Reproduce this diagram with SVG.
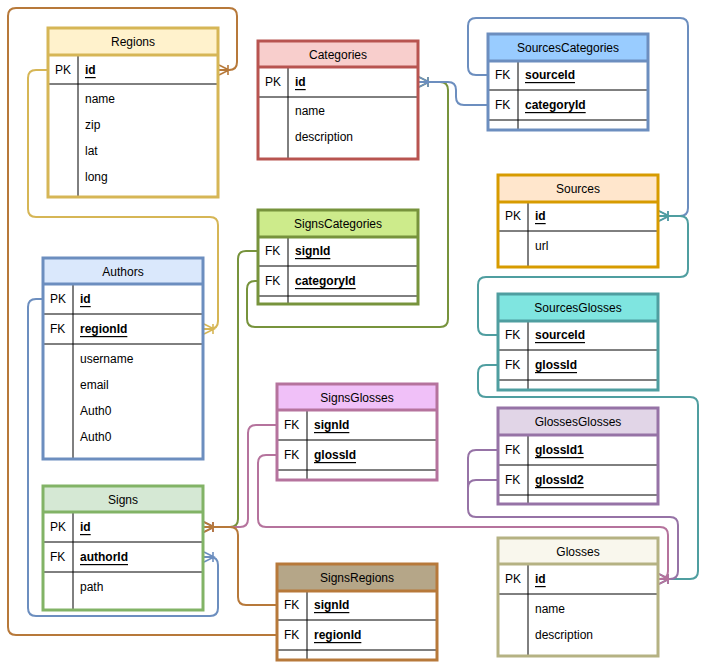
<svg xmlns="http://www.w3.org/2000/svg" width="707" height="663" viewBox="0 0 707 663">
<style>
text{font-family:"Liberation Sans",Arial,sans-serif;font-size:12px;fill:#000;dominant-baseline:central}
.t{text-anchor:middle}
.k{font-weight:bold;text-decoration:underline}
.row{stroke:#000;stroke-width:1;fill:none}
.c{fill:none;stroke-width:2}
.m{fill:none;stroke-width:1.6}
</style>
<defs>
<marker id="mBr" viewBox="-12 -7 14 14" refX="0" refY="0" markerWidth="14" markerHeight="14" markerUnits="userSpaceOnUse" orient="auto"><path class="m" stroke="#b7793a" d="M0,-5 L-10,0 L0,5 M0,0 L-10,0 M-9,-5 L-9,5"/></marker>
<marker id="mYe" viewBox="-12 -7 14 14" refX="0" refY="0" markerWidth="14" markerHeight="14" markerUnits="userSpaceOnUse" orient="auto"><path class="m" stroke="#d6b656" d="M0,-5 L-10,0 L0,5 M0,0 L-10,0 M-9,-5 L-9,5"/></marker>
<marker id="mBl" viewBox="-12 -7 14 14" refX="0" refY="0" markerWidth="14" markerHeight="14" markerUnits="userSpaceOnUse" orient="auto"><path class="m" stroke="#6c8ebf" d="M0,-5 L-10,0 L0,5 M0,0 L-10,0 M-9,-5 L-9,5"/></marker>
<marker id="mGr" viewBox="-12 -7 14 14" refX="0" refY="0" markerWidth="14" markerHeight="14" markerUnits="userSpaceOnUse" orient="auto"><path class="m" stroke="#77933c" d="M0,-5 L-10,0 L0,5 M0,0 L-10,0 M-9,-5 L-9,5"/></marker>
<marker id="mTe" viewBox="-12 -7 14 14" refX="0" refY="0" markerWidth="14" markerHeight="14" markerUnits="userSpaceOnUse" orient="auto"><path class="m" stroke="#4f9ea0" d="M0,-5 L-10,0 L0,5 M0,0 L-10,0 M-9,-5 L-9,5"/></marker>
<marker id="mPu" viewBox="-12 -7 14 14" refX="0" refY="0" markerWidth="14" markerHeight="14" markerUnits="userSpaceOnUse" orient="auto"><path class="m" stroke="#9673a6" d="M0,-5 L-10,0 L0,5 M0,0 L-10,0 M-9,-5 L-9,5"/></marker>
<marker id="mPi" viewBox="-12 -7 14 14" refX="0" refY="0" markerWidth="14" markerHeight="14" markerUnits="userSpaceOnUse" orient="auto"><path class="m" stroke="#b5739d" d="M0,-5 L-10,0 L0,5 M0,0 L-10,0 M-9,-5 L-9,5"/></marker>
</defs>
<rect width="707" height="663" fill="#fff"/>

<g id="connectors">
<path class="c" stroke="#b7793a" marker-end="url(#mBr)" d="M277,635 H16 Q8,635 8,627 V16 Q8,8 16,8 H229 Q237,8 237,16 V62 Q237,70 229,70 H219"/>
<path class="c" stroke="#d6b656" marker-end="url(#mYe)" d="M48,70 H36 Q28,70 28,78 V209 Q28,217 36,217 H210 Q218,217 218,225 V321 Q218,329 210,329 H204"/>
<path class="c" stroke="#6c8ebf" marker-end="url(#mBl)" d="M43,299 H36 Q28,299 28,307 V608 Q28,616 36,616 H210 Q218,616 218,608 V565 Q218,557 210,557 H204"/>
<path class="c" stroke="#77933c" marker-end="url(#mGr)" d="M258,251 H246 Q238,251 238,259 V519 Q238,527 230,527 H204"/>
<path class="c" stroke="#77933c" marker-end="url(#mGr)" d="M258,281 H255 Q247,281 247,289 V319 Q247,327 255,327 H440 Q448,327 448,319 V90 Q448,82 440,82 H419"/>
<path class="c" stroke="#6c8ebf" marker-end="url(#mBl)" d="M488,105 H464 Q456,105 456,97 V90 Q456,82 448,82 H419"/>
<path class="c" stroke="#6c8ebf" marker-end="url(#mBl)" d="M488,75 H476 Q468,75 468,67 V26 Q468,18 476,18 H680 Q688,18 688,26 V208 Q688,216 680,216 H659"/>
<path class="c" stroke="#4f9ea0" marker-end="url(#mTe)" d="M498,335 H486 Q478,335 478,327 V285 Q478,277 486,277 H680 Q688,277 688,269 V224 Q688,216 680,216 H659"/>
<path class="c" stroke="#4f9ea0" marker-end="url(#mTe)" d="M498,365 H486 Q478,365 478,373 V389 Q478,397 486,397 H690 Q698,397 698,405 V571 Q698,579 690,579 H659"/>
<path class="c" stroke="#9673a6" marker-end="url(#mPu)" d="M498,450 H476 Q468,450 468,458 V509 Q468,517 476,517 H670 Q678,517 678,525 V571 Q678,579 670,579 H659"/>
<path class="c" stroke="#9673a6" d="M498,480 H476 Q468,480 468,488 V500"/>
<path class="c" stroke="#b5739d" marker-end="url(#mPi)" d="M277,455 H266 Q258,455 258,463 V519 Q258,527 266,527 H660 Q668,527 668,535 V571 Q668,579 660,579 H659"/>
<path class="c" stroke="#b5739d" marker-end="url(#mPi)" d="M277,425 H256 Q248,425 248,433 V519 Q248,527 240,527 H204"/>
<path class="c" stroke="#b7793a" marker-end="url(#mBr)" d="M277,605 H246 Q238,605 238,597 V535 Q238,527 230,527 H204"/>
</g>

<g id="Regions">
<rect x="48" y="28" width="170" height="169" fill="#fff"/>
<rect x="48" y="28" width="170" height="27" fill="#fff2cc"/>
<path class="row" d="M48,84 H218 M78,55 V197"/>
<path d="M48,55 H218" stroke="#d6b656" stroke-width="3"/>
<rect x="48" y="28" width="170" height="169" fill="none" stroke="#d6b656" stroke-width="3"/>
<text class="t" x="133" y="42">Regions</text>
<text x="55" y="70">PK</text><text class="k" x="85" y="70">id</text>
<text x="85" y="99">name</text><text x="85" y="125">zip</text><text x="85" y="151">lat</text><text x="85" y="177">long</text>
</g>

<g id="Categories">
<rect x="258" y="41" width="160" height="118" fill="#fff"/>
<rect x="258" y="41" width="160" height="26" fill="#f8cecc"/>
<path class="row" d="M258,97 H418 M288,67 V159"/>
<path d="M258,67 H418" stroke="#b85450" stroke-width="3"/>
<rect x="258" y="41" width="160" height="118" fill="none" stroke="#b85450" stroke-width="3"/>
<text class="t" x="338" y="55">Categories</text>
<text x="265" y="82">PK</text><text class="k" x="295" y="82">id</text>
<text x="295" y="111">name</text><text x="295" y="137">description</text>
</g>

<g id="SignsCategories">
<rect x="258" y="210" width="160" height="94" fill="#fff"/>
<rect x="258" y="210" width="160" height="27" fill="#cdeb8b"/>
<path class="row" d="M258,266 H418 M258,296 H418 M288,237 V304"/>
<path d="M258,237 H418" stroke="#77933c" stroke-width="3"/>
<rect x="258" y="210" width="160" height="94" fill="none" stroke="#77933c" stroke-width="3"/>
<text class="t" x="338" y="224">SignsCategories</text>
<text x="265" y="251">FK</text><text class="k" x="295" y="251">signId</text>
<text x="265" y="281">FK</text><text class="k" x="295" y="281">categoryId</text>
</g>

<g id="SourcesCategories">
<rect x="488" y="34" width="160" height="96" fill="#fff"/>
<rect x="488" y="34" width="160" height="27" fill="#99ccff"/>
<path class="row" d="M488,90 H648 M488,120 H648 M518,61 V130"/>
<path d="M488,61 H648" stroke="#6c8ebf" stroke-width="3"/>
<rect x="488" y="34" width="160" height="96" fill="none" stroke="#6c8ebf" stroke-width="3"/>
<text class="t" x="568" y="48">SourcesCategories</text>
<text x="495" y="75">FK</text><text class="k" x="525" y="75">sourceId</text>
<text x="495" y="105">FK</text><text class="k" x="525" y="105">categoryId</text>
</g>

<g id="Sources">
<rect x="498" y="175" width="160" height="92" fill="#fff"/>
<rect x="498" y="175" width="160" height="27" fill="#ffe6cc"/>
<path class="row" d="M498,231 H658 M528,202 V267"/>
<path d="M498,202 H658" stroke="#d79b00" stroke-width="3"/>
<rect x="498" y="175" width="160" height="92" fill="none" stroke="#d79b00" stroke-width="3"/>
<text class="t" x="578" y="189">Sources</text>
<text x="505" y="216">PK</text><text class="k" x="535" y="216">id</text>
<text x="535" y="246">url</text>
</g>

<g id="Authors">
<rect x="43" y="258" width="160" height="201" fill="#fff"/>
<rect x="43" y="258" width="160" height="26" fill="#dae8fc"/>
<path class="row" d="M43,314 H203 M43,344 H203 M73,284 V459"/>
<path d="M43,284 H203" stroke="#6c8ebf" stroke-width="3"/>
<rect x="43" y="258" width="160" height="201" fill="none" stroke="#6c8ebf" stroke-width="3"/>
<text class="t" x="123" y="272">Authors</text>
<text x="50" y="299">PK</text><text class="k" x="80" y="299">id</text>
<text x="50" y="329">FK</text><text class="k" x="80" y="329">regionId</text>
<text x="80" y="359">username</text><text x="80" y="385">email</text><text x="80" y="411">Auth0</text><text x="80" y="437">Auth0</text>
</g>

<g id="Signs">
<rect x="43" y="486" width="160" height="124" fill="#fff"/>
<rect x="43" y="486" width="160" height="26" fill="#d5e8d4"/>
<path class="row" d="M43,542 H203 M43,572 H203 M73,512 V610"/>
<path d="M43,512 H203" stroke="#82b366" stroke-width="3"/>
<rect x="43" y="486" width="160" height="124" fill="none" stroke="#82b366" stroke-width="3"/>
<text class="t" x="123" y="500">Signs</text>
<text x="50" y="527">PK</text><text class="k" x="80" y="527">id</text>
<text x="50" y="557">FK</text><text class="k" x="80" y="557">authorId</text>
<text x="80" y="587">path</text>
</g>

<g id="SignsGlosses">
<rect x="277" y="384" width="160" height="96" fill="#fff"/>
<rect x="277" y="384" width="160" height="26" fill="#f0c0f8"/>
<path class="row" d="M277,440 H437 M277,470 H437 M307,410 V480"/>
<path d="M277,410 H437" stroke="#b5739d" stroke-width="3"/>
<rect x="277" y="384" width="160" height="96" fill="none" stroke="#b5739d" stroke-width="3"/>
<text class="t" x="357" y="398">SignsGlosses</text>
<text x="284" y="425">FK</text><text class="k" x="314" y="425">signId</text>
<text x="284" y="455">FK</text><text class="k" x="314" y="455">glossId</text>
</g>

<g id="SignsRegions">
<rect x="277" y="564" width="160" height="96" fill="#fff"/>
<rect x="277" y="564" width="160" height="27" fill="#b5a688"/>
<path class="row" d="M277,620 H437 M277,650 H437 M307,591 V660"/>
<path d="M277,591 H437" stroke="#b7793a" stroke-width="3"/>
<rect x="277" y="564" width="160" height="96" fill="none" stroke="#b7793a" stroke-width="3"/>
<text class="t" x="357" y="578">SignsRegions</text>
<text x="284" y="605">FK</text><text class="k" x="314" y="605">signId</text>
<text x="284" y="635">FK</text><text class="k" x="314" y="635">regionId</text>
</g>

<g id="SourcesGlosses">
<rect x="498" y="294" width="160" height="96" fill="#fff"/>
<rect x="498" y="294" width="160" height="27" fill="#7fe5e0"/>
<path class="row" d="M498,350 H658 M498,380 H658 M528,321 V390"/>
<path d="M498,321 H658" stroke="#4f9ea0" stroke-width="3"/>
<rect x="498" y="294" width="160" height="96" fill="none" stroke="#4f9ea0" stroke-width="3"/>
<text class="t" x="578" y="308">SourcesGlosses</text>
<text x="505" y="335">FK</text><text class="k" x="535" y="335">sourceId</text>
<text x="505" y="365">FK</text><text class="k" x="535" y="365">glossId</text>
</g>

<g id="GlossesGlosses">
<rect x="498" y="408" width="160" height="96" fill="#fff"/>
<rect x="498" y="408" width="160" height="27" fill="#e1d5e7"/>
<path class="row" d="M498,465 H658 M498,495 H658 M528,435 V504"/>
<path d="M498,435 H658" stroke="#9673a6" stroke-width="3"/>
<rect x="498" y="408" width="160" height="96" fill="none" stroke="#9673a6" stroke-width="3"/>
<text class="t" x="578" y="422">GlossesGlosses</text>
<text x="505" y="450">FK</text><text class="k" x="535" y="450">glossId1</text>
<text x="505" y="480">FK</text><text class="k" x="535" y="480">glossId2</text>
</g>

<g id="Glosses">
<rect x="498" y="538" width="160" height="118" fill="#fff"/>
<rect x="498" y="538" width="160" height="26" fill="#f9f7ed"/>
<path class="row" d="M498,594 H658 M528,564 V656"/>
<path d="M498,564 H658" stroke="#b5b283" stroke-width="3"/>
<rect x="498" y="538" width="160" height="118" fill="none" stroke="#b5b283" stroke-width="3"/>
<text class="t" x="578" y="552">Glosses</text>
<text x="505" y="579">PK</text><text class="k" x="535" y="579">id</text>
<text x="535" y="609">name</text><text x="535" y="635">description</text>
</g>
</svg>
